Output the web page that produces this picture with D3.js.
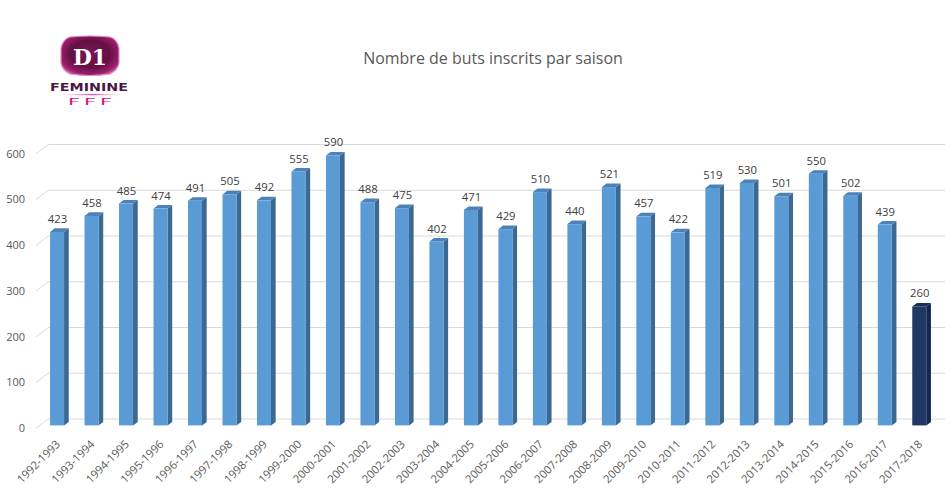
<!DOCTYPE html>
<html>
<head>
<meta charset="utf-8">
<script src="https://cdn.jsdelivr.net/npm/d3@7"></script>
<style>
  html, body { margin: 0; padding: 0; background: #ffffff; }
  svg { display: block; }
</style>
</head>
<body>
<svg id="chart" width="951" height="504"></svg>
<script>
// ---- data ----
const seasons = ["1992-1993","1993-1994","1994-1995","1995-1996","1996-1997","1997-1998","1998-1999","1999-2000","2000-2001","2001-2002","2002-2003","2003-2004","2004-2005","2005-2006","2006-2007","2007-2008","2008-2009","2009-2010","2010-2011","2011-2012","2012-2013","2013-2014","2014-2015","2015-2016","2016-2017","2017-2018"];
const goals = [423,458,485,474,491,505,492,555,590,488,475,402,471,429,510,440,521,457,422,519,530,501,550,502,439,260];
const yTicks = [0,100,200,300,400,500,600];
const title = "Nombre de buts inscrits par saison";

// ---- layout ----
const svg = d3.select("#chart");
const font = "'Open Sans', 'Liberation Sans', sans-serif";
const depth = {dx: 12.3, dy: -9.3};       // floor depth projection
const barFront = 0.31, barBack = 0.69;    // bar position inside depth

const x = d3.scaleBand().domain(seasons).range([36, 932.7]).paddingInner(0.594).paddingOuter(0.297);
const y = d3.scaleLinear().domain([0, 600]).range([428.3, 153.8]);

// gridlines (back wall + floor slant)
const grid = svg.append("g");
yTicks.forEach(t => {
  const yy = y(t);
  grid.append("line")
    .attr("x1", 36).attr("y1", yy)
    .attr("x2", 36 + depth.dx).attr("y2", yy + depth.dy)
    .attr("stroke", "#d9d9d9").attr("stroke-width", 1);
  grid.append("line")
    .attr("x1", 36 + depth.dx).attr("y1", yy + depth.dy)
    .attr("x2", 945).attr("y2", yy + depth.dy)
    .attr("stroke", "#d9d9d9").attr("stroke-width", 1);
});

// y axis labels
svg.append("g").selectAll("text").data(yTicks).join("text")
  .attr("x", 25).attr("y", d => y(d)).attr("dy", "0.35em")
  .attr("text-anchor", "end")
  .attr("font-family", font).attr("font-size", 11).attr("fill", "#595959")
  .text(d => d);

// bars
const fx = barFront * depth.dx, fy = barFront * depth.dy;
const sx = (barBack - barFront) * depth.dx, sy = (barBack - barFront) * depth.dy;
const w = x.bandwidth();
const colors = (i) => i === seasons.length - 1
  ? {front: "#1f3864", side: "#15284a", top: "#1a2f57"}
  : {front: "#5b9bd5", side: "#3b6991", top: "#4a82b9"};

const bars = svg.append("g");
seasons.forEach((s, i) => {
  const v = goals[i];
  const x0 = x(s) + fx;
  const yTop = y(v) + fy, yBot = y(0) + fy;
  const c = colors(i);
  bars.append("polygon")
    .attr("points", [[x0 + w, yTop], [x0 + w + sx, yTop + sy], [x0 + w + sx, yBot + sy], [x0 + w, yBot]].map(p => p.join(",")).join(" "))
    .attr("fill", c.side);
  bars.append("polygon")
    .attr("points", [[x0, yTop], [x0 + sx, yTop + sy], [x0 + w + sx, yTop + sy], [x0 + w, yTop]].map(p => p.join(",")).join(" "))
    .attr("fill", c.top);
  bars.append("rect")
    .attr("x", x0).attr("y", yTop).attr("width", w).attr("height", yBot - yTop)
    .attr("fill", c.front);
  bars.append("text")
    .attr("x", x0 + w / 2 + 0.5).attr("y", yTop - 9)
    .attr("text-anchor", "middle")
    .attr("font-family", font).attr("font-size", 11.3).attr("fill", "#404040")
    .text(v);
});

// x axis labels
svg.append("g").selectAll("text").data(seasons).join("text")
  .attr("transform", d => `translate(${x(d) + fx + w / 2 + 1},${442}) rotate(-45)`)
  .attr("text-anchor", "end").attr("dy", "0.35em")
  .attr("font-family", font).attr("font-size", 11.3).attr("fill", "#595959")
  .text(d => d);

// title (fit width to the reference)
const t = svg.append("text")
  .attr("x", 493).attr("y", 64)
  .attr("text-anchor", "middle")
  .attr("font-family", font).attr("font-size", 14).attr("fill", "#595959")
  .text(title);
const tw = t.node().getComputedTextLength();
t.attr("font-size", 14 * 260 / tw);

// ---- logo ----
const defs = svg.append("defs");
const rg = defs.append("radialGradient").attr("id", "shield").attr("cx", "50%").attr("cy", "45%").attr("r", "62%");
rg.append("stop").attr("offset", "0%").attr("stop-color", "#7a1656");
rg.append("stop").attr("offset", "55%").attr("stop-color", "#641044");
rg.append("stop").attr("offset", "85%").attr("stop-color", "#9c1f6e");
rg.append("stop").attr("offset", "100%").attr("stop-color", "#e06aad");
const lg = defs.append("linearGradient").attr("id", "pinkline");
lg.append("stop").attr("offset", "0%").attr("stop-color", "#f4a6cf").attr("stop-opacity", 0.2);
lg.append("stop").attr("offset", "50%").attr("stop-color", "#e0469b");
lg.append("stop").attr("offset", "100%").attr("stop-color", "#f4a6cf").attr("stop-opacity", 0.2);

const logo = svg.append("g");
logo.append("path")
  .attr("d", "M70,37 Q90,35 110,37 Q117,39 119,48 L119,63 Q118,70 110,74 Q90,77 70,74 Q62,70 61,63 L61,48 Q63,39 70,37 Z")
  .attr("fill", "url(#shield)").attr("stroke", "#e48cc0").attr("stroke-width", 1.2).attr("stroke-linejoin", "round");
logo.append("text")
  .attr("x", 90).attr("y", 65).attr("text-anchor", "middle")
  .attr("font-family", "'DejaVu Serif', serif").attr("font-weight", "bold").attr("font-size", 22)
  .attr("fill", "#ffffff").attr("textLength", 34).attr("lengthAdjust", "spacingAndGlyphs")
  .text("D1");
logo.append("text")
  .attr("x", 50).attr("y", 91)
  .attr("font-family", "'DejaVu Sans', sans-serif").attr("font-weight", "bold").attr("font-size", 11)
  .attr("fill", "#4a1642").attr("textLength", 78).attr("lengthAdjust", "spacingAndGlyphs")
  .text("FEMININE");
logo.append("rect").attr("x", 64).attr("y", 94).attr("width", 56).attr("height", 1.2).attr("fill", "url(#pinkline)");
["F","F","F"].forEach((f, i) => {
  logo.append("text")
    .attr("x", 68 + i * 16).attr("y", 105)
    .attr("font-family", "'DejaVu Sans', sans-serif").attr("font-size", 8.5)
    .attr("fill", "#e0137f").attr("textLength", 12).attr("lengthAdjust", "spacingAndGlyphs")
    .text(f);
});
</script>
</body>
</html>
